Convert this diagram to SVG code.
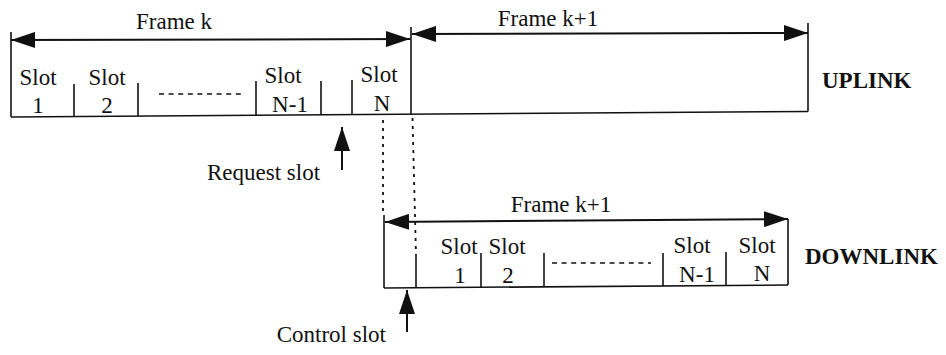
<svg xmlns="http://www.w3.org/2000/svg" width="946" height="355" viewBox="0 0 946 355">
<style>
  text { font-family: "Liberation Serif", "Times New Roman", serif; font-size: 23px; fill: #111; }
  .c { text-anchor: middle; }
  .b { font-weight: bold; }
  .ln { stroke: #111; stroke-width: 1.6; fill: none; }
  .arr { stroke: #111; stroke-width: 2; fill: none; }
  .dash { stroke: #111; stroke-width: 1.6; stroke-dasharray: 5 4.6; fill: none; }
  .dot { stroke: #111; stroke-width: 1.8; stroke-dasharray: 3 5; fill: none; }
</style>
<defs>
  <marker id="ah" viewBox="0 0 24 16" refX="24" refY="8" markerWidth="24" markerHeight="16" markerUnits="userSpaceOnUse" orient="auto-start-reverse">
    <path d="M0,0 L24,8 L0,16 z" fill="#111"/>
  </marker>
</defs>
<rect width="946" height="355" fill="#fff"/>

<g id="uplink">
  <line class="ln" x1="11" y1="32" x2="11" y2="117"/>
  <line class="ln" x1="411" y1="27" x2="411" y2="114"/>
  <line class="ln" x1="808" y1="23" x2="808" y2="111.5"/>
  <line class="ln" x1="11" y1="117" x2="808" y2="111.5"/>
  <line class="ln" x1="74" y1="84" x2="74" y2="116.5"/>
  <line class="ln" x1="138" y1="83" x2="138" y2="116"/>
  <line class="ln" x1="256" y1="81" x2="256" y2="115.3"/>
  <line class="ln" x1="321" y1="81" x2="321" y2="114.8"/>
  <line class="ln" x1="352" y1="80" x2="352" y2="114.6"/>
  <line class="dash" x1="159" y1="94" x2="245" y2="94"/>
  <text class="c" x="38" y="85">Slot</text>
  <text class="c" x="38" y="113">1</text>
  <text class="c" x="107" y="85">Slot</text>
  <text class="c" x="107" y="113">2</text>
  <text class="c" x="283" y="83">Slot</text>
  <text class="c" x="290" y="112">N-1</text>
  <text class="c" x="379" y="82">Slot</text>
  <text class="c" x="382" y="111">N</text>
  <text class="b" x="822" y="88">UPLINK</text>
</g>

<g id="downlink">
  <line class="ln" x1="384" y1="215" x2="384" y2="288"/>
  <line class="ln" x1="788" y1="219" x2="788" y2="285"/>
  <line class="ln" x1="384" y1="288" x2="788" y2="285"/>
  <line class="ln" x1="416" y1="255" x2="416" y2="287.8"/>
  <line class="ln" x1="481" y1="253" x2="481" y2="287.3"/>
  <line class="ln" x1="544" y1="253" x2="544" y2="286.8"/>
  <line class="ln" x1="663" y1="253" x2="663" y2="285.9"/>
  <line class="ln" x1="726" y1="252" x2="726" y2="285.5"/>
  <line class="dash" x1="552" y1="263" x2="651" y2="263"/>
  <text class="c" x="459" y="254">Slot</text>
  <text class="c" x="460" y="283">1</text>
  <text class="c" x="507" y="254">Slot</text>
  <text class="c" x="508" y="283">2</text>
  <text class="c" x="692" y="253">Slot</text>
  <text class="c" x="697" y="282">N-1</text>
  <text class="c" x="757" y="253">Slot</text>
  <text class="c" x="762" y="281">N</text>
  <text class="b" x="805" y="264">DOWNLINK</text>
</g>

<g id="labels">
  <text class="c" x="174" y="29">Frame k</text>
  <text class="c" x="548" y="26">Frame k+1</text>
  <text class="c" x="561" y="212">Frame k+1</text>
  <text x="207" y="180">Request slot</text>
  <text x="386" y="342" text-anchor="end">Control slot</text>
</g>

<g id="connectors">
  <line class="arr" x1="11" y1="40" x2="410" y2="39" marker-start="url(#ah)" marker-end="url(#ah)"/>
  <line class="arr" x1="412" y1="34" x2="808" y2="33" marker-start="url(#ah)" marker-end="url(#ah)"/>
  <line class="arr" x1="385" y1="222" x2="788" y2="219" marker-start="url(#ah)" marker-end="url(#ah)"/>
  <line class="arr" x1="342" y1="170" x2="342" y2="127" marker-end="url(#ah)"/>
  <line class="arr" x1="407" y1="332" x2="407" y2="290" marker-end="url(#ah)"/>
  <line class="dot" x1="383" y1="120" x2="383" y2="215"/>
  <line class="dot" x1="412.5" y1="118" x2="416" y2="255"/>
</g>
</svg>
